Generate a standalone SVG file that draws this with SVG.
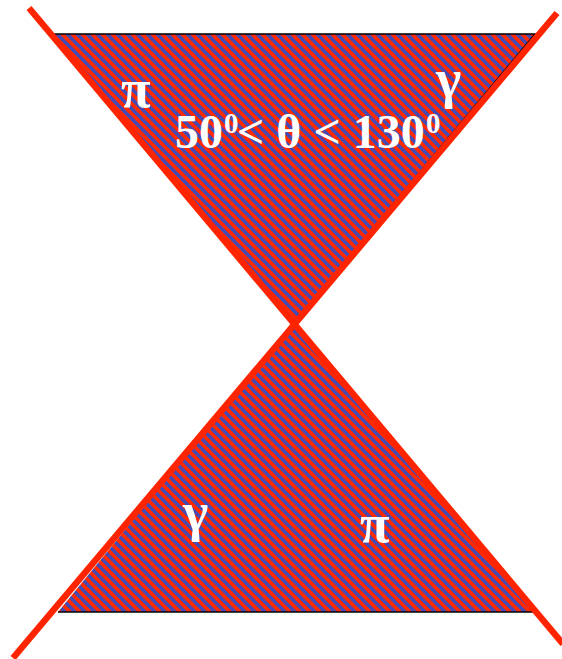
<svg xmlns="http://www.w3.org/2000/svg" width="562" height="659" viewBox="0 0 562 659">
  <defs>
    <pattern id="hatch" patternUnits="userSpaceOnUse" width="10" height="10">
      <rect x="0" y="0" width="10" height="10" fill="#FF2A00" shape-rendering="crispEdges"/>
      <polygon points="0,0 5,0 10,5 10,10" fill="#4B48AE" shape-rendering="crispEdges"/>
      <polygon points="0,5 0,10 5,10" fill="#4B48AE" shape-rendering="crispEdges"/>
    </pattern>
    <style>
      .cone { fill: url(#hatch); }
      .edge { stroke: #000; stroke-width: 1.5; fill: none; }
      .ray { stroke: #FF2400; stroke-width: 6.5; fill: none; }
      .lbl { fill: #fff; font-family: "Liberation Serif", "Times New Roman", serif; font-weight: bold; }
      .greek { font-size: 54px; }
    </style>
  </defs>
  <rect width="562" height="659" fill="#fff"/>
  <g id="upper-cone">
    <polygon class="cone" points="53,34 535,34 294,323"/>
    <polygon class="edge" points="53,34 535,34 294,323"/>
  </g>
  <g id="lower-cone">
    <polygon class="cone" points="58,612 533,612 294,323"/>
    <line class="edge" x1="58" y1="612" x2="533" y2="612"/>
  </g>
  <g id="connectors">
    <line class="ray" x1="29" y1="8" x2="563" y2="644"/>
    <line class="ray" x1="557" y1="13" x2="13" y2="658"/>
  </g>
  <g id="labels">
    <text class="lbl greek" x="121" y="107">π</text>
    <text class="lbl greek" x="436" y="97">γ</text>
    <text class="lbl" font-size="48" y="148"><tspan x="175">50</tspan><tspan x="224" y="133" font-size="29">0</tspan><tspan x="237" y="148">&lt; θ &lt; 130</tspan><tspan x="426" y="133" font-size="29">0</tspan></text>
    <text class="lbl greek" x="183" y="530">γ</text>
    <text class="lbl greek" x="360" y="542">π</text>
  </g>
</svg>
